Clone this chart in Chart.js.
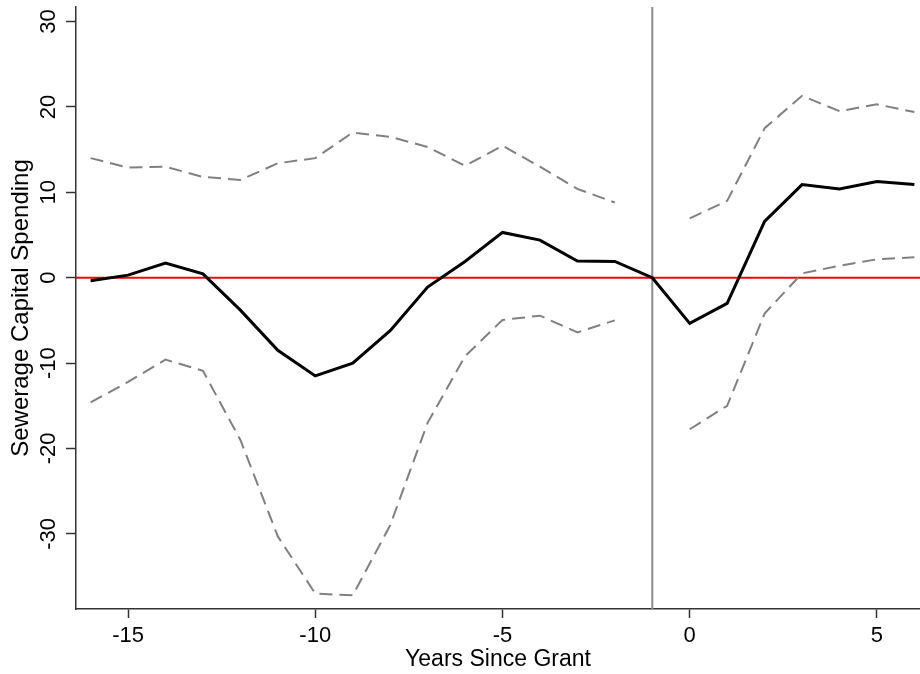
<!DOCTYPE html>
<html>
<head>
<meta charset="utf-8">
<script src="https://cdn.jsdelivr.net/npm/chart.js@4.4.1/dist/chart.umd.min.js"></script>
<style>
  html, body { margin: 0; padding: 0; background: #fff; }
  #wrap { width: 920px; height: 674px; }
</style>
</head>
<body>
<div id="wrap"><canvas id="eventChart"></canvas></div>
<script>
// event-time axis and point estimates with 95% bounds
const years = [-16, -15, -14, -13, -12, -11, -10, -9, -8, -7, -6, -5, -4, -3, -2, -1, 0, 1, 2, 3, 4, 5, 6];
const estimate = [-0.35, 0.3, 1.7, 0.45, -3.8, -8.5, -11.5, -10.0, -6.2, -1.1, 1.9, 5.3, 4.4, 1.95, 1.9, 0, -5.35, -3.0, 6.6, 10.9, 10.4, 11.25, 10.9];
const upperCI = [14.0, 12.9, 13.0, 11.8, 11.45, 13.4, 14.0, 17.0, 16.5, 15.3, 13.1, 15.45, 13.0, 10.4, 8.8, null, 6.95, 9.0, 17.5, 21.3, 19.5, 20.3, 19.4];
const lowerCI = [-14.6, -12.2, -9.6, -10.9, -19.0, -30.3, -37.0, -37.2, -29.0, -17.0, -9.2, -4.95, -4.45, -6.4, -5.0, null, -17.75, -15.0, -4.2, 0.5, 1.4, 2.15, 2.4];
const xTicks = [-15, -10, -5, 0, 5];
const yTicks = [-30, -20, -10, 0, 10, 20, 30];
const zeroLine = 0;
const grantYear = -1;

const FONT = "'Liberation Sans', Arial, Helvetica, sans-serif";
const FONT_SIZE = 22;

const toPoints = (vals) => years.map((x, i) => ({ x: x, y: vals[i] }));

// reference lines under the series, rotated y tick labels on top
const refLines = {
  id: "refLines",
  beforeDatasetsDraw(chart) {
    const { ctx, chartArea, scales } = chart;
    const y0 = scales.y.getPixelForValue(zeroLine);
    const xg = scales.x.getPixelForValue(grantYear);
    ctx.save();
    ctx.lineWidth = 2;
    ctx.strokeStyle = "#8c8c8c";
    ctx.beginPath();
    ctx.moveTo(xg, chartArea.top);
    ctx.lineTo(xg, chartArea.bottom);
    ctx.stroke();
    ctx.strokeStyle = "#ff0000";
    ctx.beginPath();
    ctx.moveTo(chartArea.left, y0);
    ctx.lineTo(chartArea.right, y0);
    ctx.stroke();
    ctx.restore();
  },
  afterDraw(chart) {
    const { ctx, scales } = chart;
    ctx.save();
    ctx.fillStyle = "#000";
    ctx.font = FONT_SIZE + "px " + FONT;
    ctx.textAlign = "center";
    ctx.textBaseline = "middle";
    scales.y.ticks.forEach((t) => {
      const py = scales.y.getPixelForValue(t.value);
      ctx.save();
      ctx.translate(49, py);
      ctx.rotate(-Math.PI / 2);
      ctx.fillText(String(t.value), 0, 0);
      ctx.restore();
    });
    ctx.restore();
  },
};

new Chart(document.getElementById("eventChart"), {
  type: "line",
  data: {
    datasets: [
      {
        data: toPoints(estimate),
        borderColor: "#000",
        borderWidth: 3,
        pointRadius: 0,
        tension: 0,
        order: 0,
      },
      {
        data: toPoints(upperCI),
        borderColor: "#808080",
        borderWidth: 2,
        borderDash: [13, 7],
        pointRadius: 0,
        tension: 0,
        spanGaps: false,
        order: 1,
      },
      {
        data: toPoints(lowerCI),
        borderColor: "#808080",
        borderWidth: 2,
        borderDash: [13, 7],
        pointRadius: 0,
        tension: 0,
        spanGaps: false,
        order: 1,
      },
    ],
  },
  options: {
    responsive: true,
    maintainAspectRatio: false,
    animation: false,
    layout: { padding: { top: 7, right: 0, left: 0, bottom: 0 } },
    plugins: { legend: { display: false }, tooltip: { enabled: false } },
    scales: {
      x: {
        type: "linear",
        min: -16.39,
        max: 6.15,
        afterBuildTicks: (scale) => {
          scale.ticks = xTicks.map((v) => ({ value: v }));
        },
        afterFit: (scale) => {
          scale.height = 65;
        },
        grid: { drawOnChartArea: false, drawTicks: true, tickLength: 9, tickColor: "#333", tickWidth: 1.5 },
        border: { display: true, color: "#333", width: 1.5 },
        ticks: { color: "#000", font: { size: FONT_SIZE, family: FONT }, padding: 5, maxRotation: 0 },
        title: {
          display: true,
          text: "Years Since Grant",
          color: "#000",
          font: { size: 23, family: FONT },
          padding: { top: 0, bottom: 1 },
        },
      },
      y: {
        type: "linear",
        min: -38.8,
        max: 31.7,
        afterBuildTicks: (scale) => {
          scale.ticks = yTicks.map((v) => ({ value: v }));
        },
        afterFit: (scale) => {
          scale.width = 76;
        },
        grid: { drawOnChartArea: false, drawTicks: true, tickLength: 10, tickColor: "#333", tickWidth: 1.5 },
        border: { display: true, color: "#333", width: 1.5 },
        ticks: { display: false },
        title: {
          display: true,
          text: "Sewerage Capital Spending",
          color: "#000",
          font: { size: 24, family: FONT },
          padding: { top: 7, bottom: 0 },
        },
      },
    },
  },
  plugins: [refLines],
});
</script>
</body>
</html>
